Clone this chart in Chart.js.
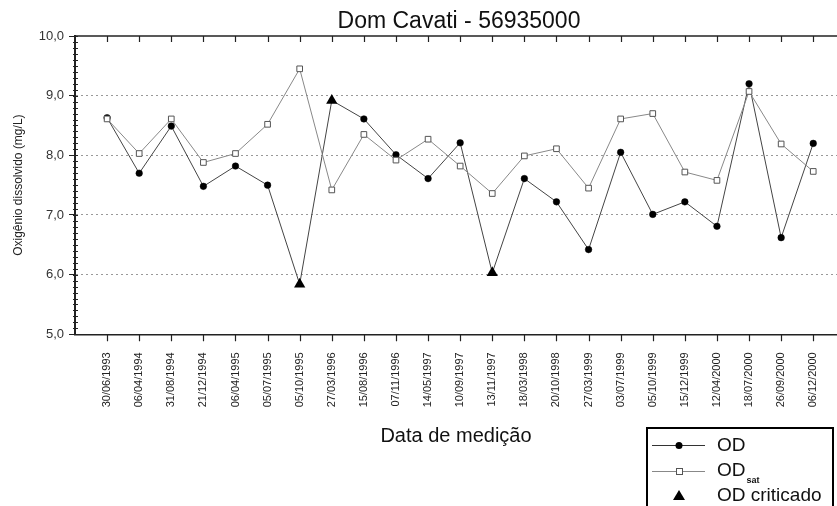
<!DOCTYPE html>
<html>
<head>
<meta charset="utf-8">
<script src="https://cdn.jsdelivr.net/npm/chart.js@4/dist/chart.umd.min.js"></script>
<style>
  body { margin: 0; background: #fff; }
  #wrap { width: 837px; height: 506px; position: relative; }
</style>
</head>
<body>
<div id="wrap"><canvas id="oxChart"></canvas></div>
<script>
var dates = ['30/06/1993', '06/04/1994', '31/08/1994', '21/12/1994', '06/04/1995', '05/07/1995',
    '05/10/1995', '27/03/1996', '15/08/1996', '07/11/1996', '14/05/1997', '10/09/1997',
    '13/11/1997', '18/03/1998', '20/10/1998', '27/03/1999', '03/07/1999', '05/10/1999',
    '15/12/1999', '12/04/2000', '18/07/2000', '26/09/2000', '06/12/2000'];
var od = [8.63, 7.70, 8.49, 7.48, 7.82, 7.50, 5.84, 8.92, 8.61, 8.01, 7.61, 8.21,
    6.03, 7.61, 7.22, 6.42, 8.05, 7.01, 7.22, 6.81, 9.20, 6.62, 8.20];
var odSat = [8.61, 8.03, 8.61, 7.88, 8.03, 8.52, 9.45, 7.42, 8.35, 7.92, 8.27, 7.82,
    7.36, 7.99, 8.11, 7.45, 8.61, 8.70, 7.72, 7.58, 9.07, 8.19, 7.73];
var criticado = [6, 7, 12]; // indexes of OD values that were flagged
var yTicks = [5, 6, 7, 8, 9, 10];

var font = 'Liberation Sans, Arial, sans-serif';

var odPoints = od.map(function (v, i) { return { x: i, y: v }; });
var satPoints = odSat.map(function (v, i) { return { x: i, y: v }; });
var critPoints = criticado.map(function (i) { return { x: i, y: od[i] }; });

// extra drawing: top frame line, tick marks, minor ticks, title and legend box
var frame = {
    id: 'frame',
    afterDraw: function (chart) {
        var c = chart.ctx, a = chart.chartArea;
        var xs = chart.scales.x, ys = chart.scales.y;
        c.save();
        c.strokeStyle = '#222';
        c.lineWidth = 1.5;
        c.beginPath();
        c.moveTo(a.left, a.top);
        c.lineTo(chart.width, a.top);
        c.stroke();
        c.lineWidth = 1.2;
        c.beginPath();
        dates.forEach(function (d, i) {
            var px = Math.round(xs.getPixelForValue(i)) + 0.5;
            c.moveTo(px, a.top);
            c.lineTo(px, a.top + 6);
            c.moveTo(px, a.bottom);
            c.lineTo(px, a.bottom + 7);
        });
        c.stroke();
        c.lineWidth = 1;
        c.beginPath();
        for (var k = 50; k <= 100; k++) {
            var py = Math.round(ys.getPixelForValue(k / 10)) + 0.5;
            c.moveTo(a.left - 2, py);
            c.lineTo(a.left + 3, py);
        }
        c.stroke();

        // title
        c.fillStyle = '#111';
        c.font = '23px ' + font;
        c.textAlign = 'center';
        c.textBaseline = 'middle';
        c.fillText('Dom Cavati - 56935000', (a.left + a.right) / 2 + 3, 22);

        // legend
        var bx = 647, by = 428;
        c.lineWidth = 2;
        c.strokeStyle = '#000';
        c.strokeRect(bx, by, 186, 86);
        c.textAlign = 'left';
        c.font = '19px ' + font;
        c.fillStyle = '#111';

        c.lineWidth = 1;
        c.strokeStyle = '#333';
        c.beginPath(); c.moveTo(652, 445.5); c.lineTo(705, 445.5); c.stroke();
        c.beginPath(); c.arc(679, 445.5, 3.5, 0, Math.PI * 2); c.fillStyle = '#000'; c.fill();
        c.fillStyle = '#111';
        c.fillText('OD', 717, 446);

        c.strokeStyle = '#888';
        c.beginPath(); c.moveTo(652, 471.5); c.lineTo(705, 471.5); c.stroke();
        c.fillStyle = '#fff';
        c.fillRect(676, 468.5, 6, 6);
        c.strokeStyle = '#555';
        c.strokeRect(676.5, 468.5, 6, 6);
        c.fillStyle = '#111';
        c.fillText('OD', 717, 471);
        var w = c.measureText('OD').width;
        c.font = 'bold 9px ' + font;
        c.fillText('sat', 717 + w + 1, 481);

        c.font = '19px ' + font;
        c.beginPath();
        c.moveTo(679, 490);
        c.lineTo(685, 500);
        c.lineTo(673, 500);
        c.closePath();
        c.fillStyle = '#000';
        c.fill();
        c.fillStyle = '#111';
        c.fillText('OD criticado', 717, 496);
        c.restore();
    }
};

var ctx = document.getElementById('oxChart').getContext('2d');
var chart = new Chart(ctx, {
    type: 'line',
    data: {
        datasets: [{
            label: 'OD',
            data: odPoints,
            order: 2,
            borderColor: '#444',
            borderWidth: 1,
            backgroundColor: '#000',
            pointBackgroundColor: '#000',
            pointBorderColor: '#000',
            pointRadius: od.map(function (v, i) { return criticado.indexOf(i) >= 0 ? 0 : 3.3; }),
            pointBorderWidth: 0.5,
            tension: 0
        }, {
            label: 'ODsat',
            data: satPoints,
            order: 1,
            borderColor: '#888',
            borderWidth: 1,
            pointStyle: 'rect',
            pointRadius: 4,
            pointBackgroundColor: '#fff',
            pointBorderColor: '#555',
            pointBorderWidth: 1,
            tension: 0
        }, {
            label: 'OD criticado',
            data: critPoints,
            order: 0,
            showLine: false,
            pointStyle: 'triangle',
            pointRadius: 6.5,
            pointBackgroundColor: '#000',
            pointBorderColor: '#000',
            pointBorderWidth: 0
        }]
    },
    options: {
        responsive: true,
        maintainAspectRatio: false,
        animation: false,
        layout: {
            autoPadding: false,
            padding: { top: 36, left: 0, right: 0, bottom: 0 }
        },
        plugins: {
            legend: { display: false },
            tooltip: { enabled: false }
        },
        scales: {
            x: {
                type: 'linear',
                min: -1,
                max: 22.74,
                afterFit: function (s) {
                    s.height = 171.7;
                    s.paddingRight = 0;
                    s.paddingLeft = 0;
                },
                grid: { display: false },
                border: { display: true, color: '#222', width: 1.5 },
                ticks: {
                    stepSize: 1,
                    includeBounds: false,
                    autoSkip: false,
                    minRotation: 90,
                    maxRotation: 90,
                    padding: 10,
                    color: '#222',
                    font: { family: font, size: 11 },
                    callback: function (v) { return dates[v] || ''; }
                },
                title: {
                    display: true,
                    text: 'Data de medição',
                    color: '#111',
                    font: { family: font, size: 20 },
                    padding: { top: 0, bottom: 58 }
                }
            },
            y: {
                min: 5,
                max: 10,
                afterFit: function (s) { s.width = 75; },
                afterBuildTicks: function (s) {
                    s.ticks = yTicks.map(function (v) { return { value: v }; });
                },
                grid: {
                    drawOnChartArea: true,
                    tickLength: 6,
                    tickColor: '#222',
                    lineWidth: 1,
                    color: function (c) {
                        var v = c.tick && c.tick.value;
                        return (v === 5 || v === 10) ? 'rgba(0,0,0,0)' : '#999';
                    }
                },
                border: { display: true, color: '#222', width: 2, dash: [2, 3] },
                ticks: {
                    padding: 5,
                    color: '#333',
                    font: { family: font, size: 13 },
                    callback: function (v) { return v.toFixed(1).replace('.', ','); }
                },
                title: {
                    display: true,
                    text: 'Oxigênio dissolvido (mg/L)',
                    color: '#222',
                    font: { family: font, size: 12 },
                    padding: { top: 11, bottom: 0 }
                }
            }
        }
    },
    plugins: [frame]
});
</script>
</body>
</html>
